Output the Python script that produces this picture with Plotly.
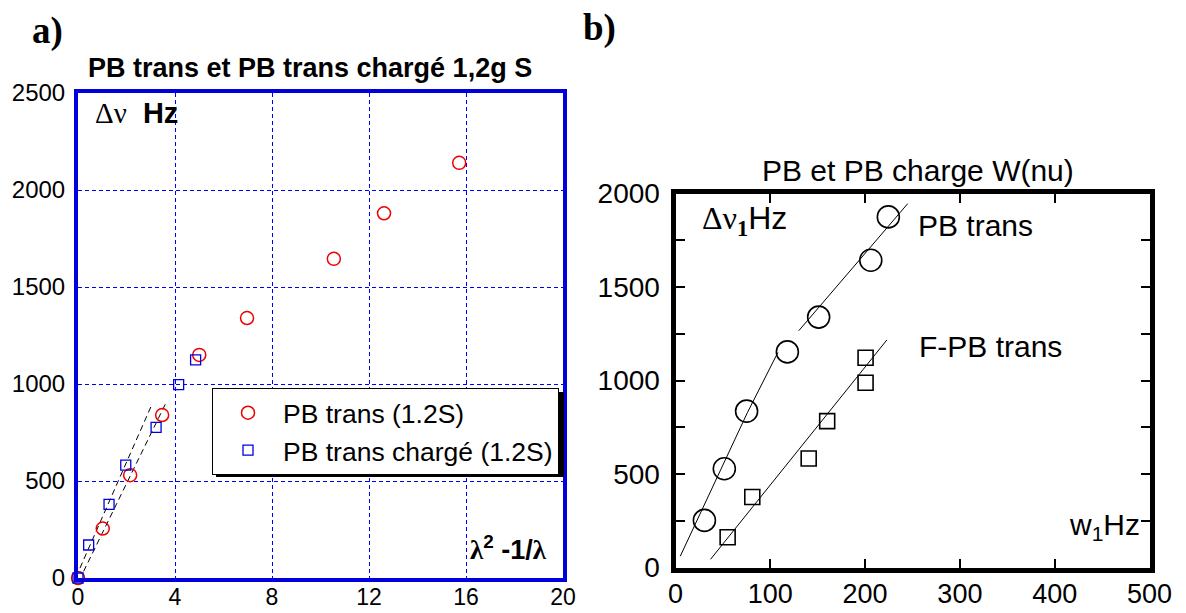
import plotly.graph_objects as go

# ---------------- Panel a data ----------------
a_trans_x = [0, 1.02, 2.15, 3.47, 5.0, 6.97, 10.55, 12.62, 15.72]
a_trans_y = [0, 255, 530, 840, 1150, 1340, 1645, 1880, 2140]
a_charge_x = [0, 0.44, 1.28, 1.97, 3.22, 4.15, 4.85]
a_charge_y = [0, 170, 380, 582, 776, 997, 1124]
a_fit_charge_x = [0.08, 3.05]
a_fit_charge_y = [51, 895]
a_fit_trans_x = [0.23, 3.64]
a_fit_trans_y = [34, 906]
a_xticks = [0, 4, 8, 12, 16, 20]
a_yticks = [0, 500, 1000, 1500, 2000, 2500]

# ---------------- Panel b data ----------------
b_trans_x = [30.5, 51.5, 75, 118, 151, 206, 224.5]
b_trans_y = [252, 528, 836, 1153, 1339, 1643, 1875]
b_ftrans_x = [55, 81, 140.5, 160, 200.5, 200.5]
b_ftrans_y = [162, 377, 583, 783, 1122, 988]
b_fit_low_x = [5, 76, 108]
b_fit_low_y = [60, 830, 1150]
b_fit_high_x = [130, 245]
b_fit_high_y = [1266, 1946]
b_fit_f_x = [37, 223]
b_fit_f_y = [44, 1217]
b_xticks = [0, 100, 200, 300, 400, 500]
b_yticks = [0, 500, 1000, 1500, 2000]

SANS = "Liberation Sans, Arial, sans-serif"
SERIF = "Liberation Serif, Times New Roman, serif"
BLUE = "#0000dd"
GRID = "#0000ff"
RED = "#ee0000"

W, H = 1186, 613
OFF = 8  # page body margin


def px(X):
    return (X - OFF) / W


def py(Y):
    return 1 - (Y - OFF) / H


fig = go.Figure()

# panel a fits
for fx, fy in [(a_fit_charge_x, a_fit_charge_y), (a_fit_trans_x, a_fit_trans_y)]:
    fig.add_trace(go.Scatter(x=fx, y=fy, mode="lines",
                             line=dict(color="black", width=1, dash="6px,4px"),
                             showlegend=False, xaxis="x", yaxis="y"))
fig.add_trace(go.Scatter(x=a_trans_x, y=a_trans_y, mode="markers", name="PB trans (1.2S)",
                         marker=dict(symbol="circle-open", size=13, color=RED, line=dict(width=1.5)),
                         xaxis="x", yaxis="y", cliponaxis=False))
fig.add_trace(go.Scatter(x=a_charge_x, y=a_charge_y, mode="markers", name="PB trans chargé (1.2S)",
                         marker=dict(symbol="square-open", size=10, color=BLUE, line=dict(width=1.3)),
                         xaxis="x", yaxis="y", cliponaxis=False))

# panel b
for fx, fy in [(b_fit_low_x, b_fit_low_y), (b_fit_high_x, b_fit_high_y), (b_fit_f_x, b_fit_f_y)]:
    fig.add_trace(go.Scatter(x=fx, y=fy, mode="lines", line=dict(color="black", width=1),
                             showlegend=False, xaxis="x2", yaxis="y2"))
fig.add_trace(go.Scatter(x=b_trans_x, y=b_trans_y, mode="markers", showlegend=False,
                         marker=dict(symbol="circle-open", size=22, color="black", line=dict(width=1.6)),
                         xaxis="x2", yaxis="y2"))
fig.add_trace(go.Scatter(x=b_ftrans_x, y=b_ftrans_y, mode="markers", showlegend=False,
                         marker=dict(symbol="square-open", size=15, color="black", line=dict(width=1.6)),
                         xaxis="x2", yaxis="y2"))

fig.update_layout(
    width=W, height=H,
    margin=dict(l=0, r=0, t=0, b=0),
    paper_bgcolor="white", plot_bgcolor="white",
    font=dict(family=SANS, color="black"),
    xaxis=dict(domain=[px(78), px(563)], range=[0, 20], tickvals=a_xticks, automargin=False,
               showline=True, linecolor=BLUE, linewidth=4, mirror=True,
               showgrid=True, gridcolor=GRID, gridwidth=1, griddash="4px,3px",
               zeroline=False, ticks="", tickfont=dict(size=23), ticklabelstandoff=-5),
    yaxis=dict(domain=[py(578), py(93)], range=[0, 2500], tickvals=a_yticks, automargin=False,
               showline=True, linecolor=BLUE, linewidth=4, mirror=True,
               showgrid=True, gridcolor=GRID, gridwidth=1, griddash="4px,3px",
               zeroline=False, ticks="", tickfont=dict(size=24), ticklabelstandoff=4),
    xaxis2=dict(domain=[px(675.5), px(1149.5)], range=[0, 500], tickvals=b_xticks, anchor="y2",
                automargin=False,
                showline=True, linecolor="black", linewidth=5, mirror="ticks",
                showgrid=False, zeroline=False, ticks="inside", ticklen=9, tickwidth=2,
                tickcolor="black", tickfont=dict(size=27), ticklabelstandoff=-2),
    yaxis2=dict(domain=[py(567.5), py(193.5)], range=[0, 2000], tickvals=b_yticks, anchor="x2",
                automargin=False,
                showline=True, linecolor="black", linewidth=5, mirror="ticks",
                showgrid=False, zeroline=False, ticks="inside", ticklen=9, tickwidth=2,
                tickcolor="black", tickfont=dict(size=28), ticklabelstandoff=5,
                minor=dict(ticks="inside", dtick=250, ticklen=9, tickwidth=2, tickcolor="black")),
    legend=dict(x=px(212), y=py(388), xanchor="left", yanchor="top",
                bgcolor="white", bordercolor="black", borderwidth=1,
                font=dict(size=26.5, family=SANS), itemwidth=60,
                tracegroupgap=0),
    showlegend=True,
)

# legend shadow
fig.add_shape(type="rect", xref="paper", yref="paper",
              x0=px(216), x1=px(564), y0=py(477), y1=py(392),
              fillcolor="black", line=dict(width=0), layer="above")

ann = []
ann.append(dict(text="<b>a)</b>", x=px(47), y=py(31), font=dict(family=SERIF, size=37)))
ann.append(dict(text="<b>b)</b>", x=px(599), y=py(28), font=dict(family=SERIF, size=37)))
ann.append(dict(text="<b>PB trans et PB trans chargé 1,2g S</b>", x=px(310), y=py(68),
                font=dict(family=SANS, size=27)))
ann.append(dict(text="PB et PB charge W(nu)", x=px(918), y=py(170),
                font=dict(family=SANS, size=30)))
SER = "<span style=\"font-family:'Liberation Serif'\">"
ann.append(dict(text=SER + "Δν</span>\u00a0\u00a0<b>Hz</b>", x=px(136), y=py(113), font=dict(size=29)))
ann.append(dict(text="<b>" + SER + "λ</span><sup>2</sup> -1/" + SER + "λ</span></b>",
                x=px(508), y=py(548), font=dict(size=27)))
ann.append(dict(text=SER + "Δν<sub><b>1</b></sub></span>Hz", x=px(744), y=py(220),
                font=dict(size=32)))
ann.append(dict(text="PB trans", x=px(975), y=py(226), font=dict(size=30)))
ann.append(dict(text="F-PB trans", x=px(990), y=py(346), font=dict(size=30)))
ann.append(dict(text="w<sub>1</sub>Hz", x=px(1104), y=py(526), font=dict(size=30)))
for a in ann:
    a.update(xref="paper", yref="paper", showarrow=False, xanchor="center", yanchor="middle")

fig.update_layout(annotations=ann)

fig.write_html("out.html")
